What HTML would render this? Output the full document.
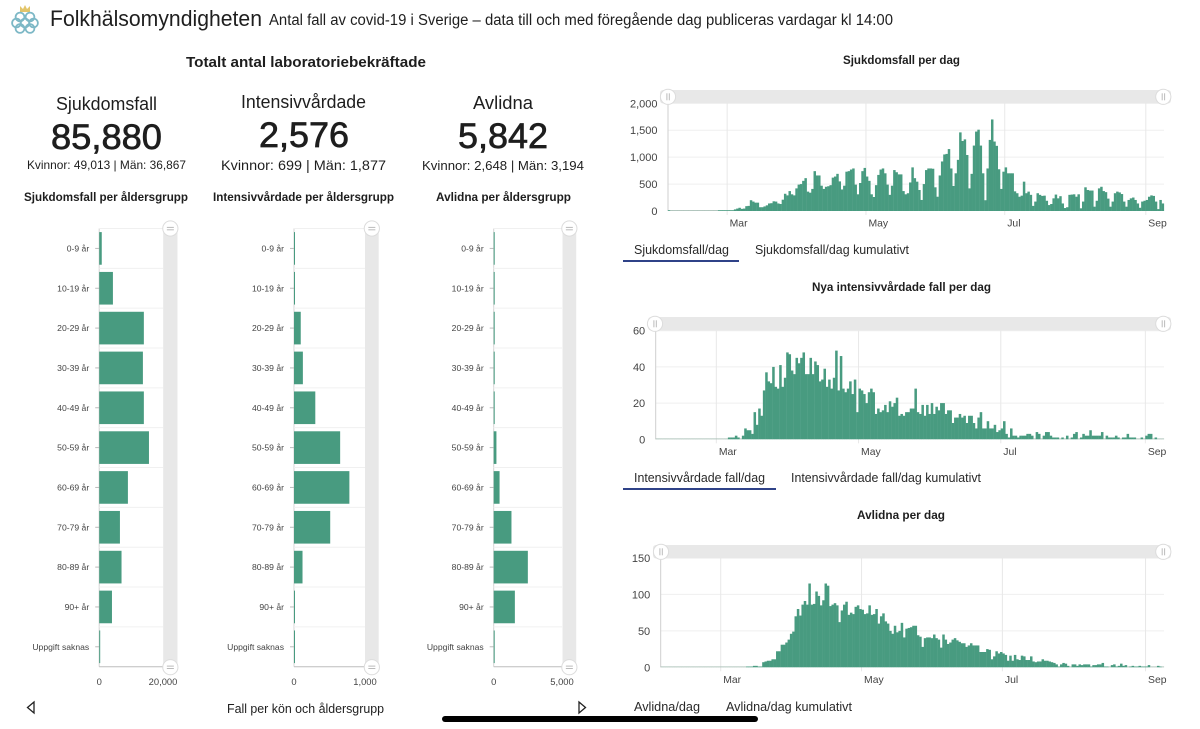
<!DOCTYPE html>
<html lang="sv">
<head>
<meta charset="utf-8">
<title>Folkhälsomyndigheten covid-19</title>
<style>
html,body{margin:0;padding:0;background:#fff;width:1200px;height:729px;overflow:hidden}
svg{display:block;filter:blur(0.35px)}
text{font-family:"Liberation Sans",sans-serif;fill:#1e1e1e}
.tab{font-size:13px;fill:#2a2a2a}
.sub{font-size:12px;font-weight:bold}
</style>
</head>
<body>
<svg id="root" width="1200" height="729" viewBox="0 0 1200 729" xmlns="http://www.w3.org/2000/svg">
  <g fill="none" stroke="#7db8c6" stroke-width="1.8">
    <path d="M20 12 L20 6 L23 9 L25 5 L27 9 L30 6 L30 12 Z" fill="#e3c56a" stroke="none"/>
    <circle cx="20" cy="17" r="4.4"/><circle cx="30" cy="17" r="4.4"/>
    <circle cx="16.5" cy="23" r="4.4"/><circle cx="25" cy="23" r="4.4"/><circle cx="33.5" cy="23" r="4.4"/>
    <circle cx="20" cy="28.5" r="4.4"/><circle cx="30" cy="28.5" r="4.4"/>
  </g>
  <text x="50" y="26" font-size="22" textLength="212" lengthAdjust="spacingAndGlyphs">Folkhälsomyndigheten</text>
  <text x="269" y="25" font-size="15.5" textLength="624" lengthAdjust="spacingAndGlyphs">Antal fall av covid-19 i Sverige – data till och med föregående dag publiceras vardagar kl 14:00</text>
  <text x="186" y="67" font-size="15" font-weight="bold" textLength="240" lengthAdjust="spacingAndGlyphs">Totalt antal laboratoriebekräftade</text>

  <text x="56" y="110" font-size="18" textLength="101" lengthAdjust="spacingAndGlyphs">Sjukdomsfall</text>
  <text x="241" y="108" font-size="18" textLength="125" lengthAdjust="spacingAndGlyphs">Intensivvårdade</text>
  <text x="473" y="109" font-size="18" textLength="60" lengthAdjust="spacingAndGlyphs">Avlidna</text>

  <text x="51" y="149" font-size="35" textLength="111" lengthAdjust="spacingAndGlyphs" stroke="#1e1e1e" stroke-width="0.7">85,880</text>
  <text x="259" y="147" font-size="35" textLength="90" lengthAdjust="spacingAndGlyphs" stroke="#1e1e1e" stroke-width="0.7">2,576</text>
  <text x="458" y="148" font-size="35" textLength="90" lengthAdjust="spacingAndGlyphs" stroke="#1e1e1e" stroke-width="0.7">5,842</text>

  <text x="27" y="169" font-size="12" textLength="159" lengthAdjust="spacingAndGlyphs">Kvinnor: 49,013 | Män: 36,867</text>
  <text x="221" y="170" font-size="14" textLength="165" lengthAdjust="spacingAndGlyphs">Kvinnor: 699 | Män: 1,877</text>
  <text x="422" y="170" font-size="13" textLength="162" lengthAdjust="spacingAndGlyphs">Kvinnor: 2,648 | Män: 3,194</text>

  <text class="sub" x="24" y="201" textLength="164" lengthAdjust="spacingAndGlyphs">Sjukdomsfall per åldersgrupp</text>
  <text class="sub" x="213" y="201" textLength="181" lengthAdjust="spacingAndGlyphs">Intensivvårdade per åldersgrupp</text>
  <text class="sub" x="436" y="201" textLength="135" lengthAdjust="spacingAndGlyphs">Avlidna per åldersgrupp</text>

  <text class="sub" x="843" y="64" textLength="117" lengthAdjust="spacingAndGlyphs">Sjukdomsfall per dag</text>
  <text class="sub" x="812" y="291" textLength="179" lengthAdjust="spacingAndGlyphs">Nya intensivvårdade fall per dag</text>
  <text class="sub" x="857" y="519" textLength="88" lengthAdjust="spacingAndGlyphs">Avlidna per dag</text>

  <text class="tab" x="634" y="254" textLength="95" lengthAdjust="spacingAndGlyphs">Sjukdomsfall/dag</text>
  <text class="tab" x="755" y="254" textLength="154" lengthAdjust="spacingAndGlyphs">Sjukdomsfall/dag kumulativt</text>
  <rect x="623" y="260" width="116" height="2" fill="#2f4288"/>
  <text class="tab" x="634" y="482" textLength="131" lengthAdjust="spacingAndGlyphs">Intensivvårdade fall/dag</text>
  <text class="tab" x="791" y="482" textLength="190" lengthAdjust="spacingAndGlyphs">Intensivvårdade fall/dag kumulativt</text>
  <rect x="623" y="488" width="153" height="2" fill="#2f4288"/>
  <text class="tab" x="634" y="711" textLength="66" lengthAdjust="spacingAndGlyphs">Avlidna/dag</text>
  <text class="tab" x="726" y="711" textLength="126" lengthAdjust="spacingAndGlyphs">Avlidna/dag kumulativt</text>

  <text x="227" y="713" font-size="13" fill="#2a2a2a" textLength="157" lengthAdjust="spacingAndGlyphs">Fall per kön och åldersgrupp</text>
  <path d="M34 702 L27.5 707.5 L34 713 Z" fill="#fff" stroke="#222" stroke-width="1.3"/>
  <path d="M579 702 L585.5 707.5 L579 713 Z" fill="#fff" stroke="#222" stroke-width="1.3"/>
  <g id="charts"></g>
  <rect x="442" y="716" width="316" height="6" rx="3" fill="#000"/>
</svg>
<script>
var ageCategories = ["0-9 år","10-19 år","20-29 år","30-39 år","40-49 år","50-59 år","60-69 år","70-79 år","80-89 år","90+ år","Uppgift saknas"];
var ageCases = [800,4300,14000,13700,14000,15600,9000,6500,7000,4000,150];
var ageIcu = [8,12,95,125,300,650,780,510,120,10,8];
var ageDeaths = [3,5,15,30,70,200,430,1300,2500,1550,15];
var ageCasesTicks = [0,20000];
var ageIcuTicks = [0,1000];
var ageDeathsTicks = [0,5000];

var monthLabels = ["Mar","May","Jul","Sep"];
var monthStartDays = [26,87,148,210];
var dailyCasesTicks = [0,500,1000,1500,2000];
var dailyIcuTicks = [0,20,40,60];
var dailyDeathsTicks = [0,50,100,150];

var dailyCases = [
1,0,0,0,0,0,0,0,0,0,0,0,0,0,0,0,0,0,0,0,0,0,1,2,3,3,
5,10,15,30,45,60,40,45,90,95,200,175,155,155,70,70,85,105,140,145,180,175,140,130,210,320,290,370,310,290,420,
490,500,560,610,360,340,410,740,660,660,470,410,450,460,480,620,640,690,550,400,470,730,740,770,790,490,310,520,740,800,
640,560,310,260,480,670,770,790,700,490,300,470,760,720,680,
680,370,310,330,530,810,610,545,390,205,
500,760,790,790,785,440,265,660,920,1050,
1060,1150,790,465,700,950,1460,1300,1330,1040,
420,690,1215,1475,1510,1215,700,200,790,1320,
1700,1290,1210,775,410,730,810,700,700,700,
365,330,265,285,545,330,360,300,95,175,
330,300,280,285,190,110,130,235,305,235,
275,140,55,70,300,305,310,265,310,50,
175,440,390,380,380,80,190,420,450,370,
350,230,80,175,330,360,345,315,175,80,
205,235,250,205,140,60,175,190,205,265,
290,280,175,35,205,140
];
var dailyIcu = [
0,0,0,0,0,0,0,0,0,0,0,0,0,0,0,0,0,0,0,0,0,0,0,0,0,0,
0,0,0,0,0,1,1,1,2,1,
0,2,6,5,5,3,15,8,17,13,
27,37,32,31,40,29,28,41,29,34,
48,47,38,36,45,42,45,48,36,36,
45,36,43,41,32,33,39,29,33,28,
34,49,27,46,28,26,28,32,25,33,
15,28,27,25,20,26,28,26,14,17,
15,16,19,15,21,18,20,23,13,14,
13,15,
15,17,17,28,15,14,19,13,19,14,
20,14,18,16,20,20,14,16,16,9,
12,12,14,12,13,9,13,13,9,6,
12,15,6,6,10,6,6,8,4,5,
6,10,3,1,6,2,2,1,2,2,
2,3,3,2,0,4,3,0,2,4,
4,2,1,1,1,0,1,0,2,0,
1,3,4,0,1,3,2,2,5,2,
2,2,2,4,0,2,1,1,1,2,
1,0,1,1,3,1,1,1,0,0,
1,0,2,3,3,0,1,0,0,0
];
var dailyDeaths = [
0,0,0,0,0,0,0,0,0,0,0,0,0,0,0,0,0,0,0,0,0,0,0,0,0,0,
0,0,0,0,0,0,0,0,0,0,0,
1,1,1,2,2,1,1,7,8,9,
9,11,11,22,22,31,31,34,38,46,
49,70,80,71,86,91,86,115,86,87,
104,98,85,92,115,112,84,86,88,85,
62,78,86,90,72,75,73,83,85,80,
79,73,74,85,72,73,80,60,70,74,
63,60,50,46,57,48,50,61,41,53,
54,55,
57,57,44,42,28,40,41,41,40,45,
40,38,27,45,38,32,34,38,40,37,
35,33,33,28,30,33,30,30,30,21,
21,21,25,24,11,15,22,19,21,19,
17,9,16,9,17,11,10,16,15,10,
10,15,8,7,8,8,11,9,9,8,
7,6,4,1,4,6,5,2,0,4,
4,2,4,3,4,4,4,1,3,3,
4,4,6,1,1,0,3,4,1,2,
5,2,3,0,1,2,1,1,2,1,
1,1,3,0,0,0,2,1,0
];

var SVGNS = "http://www.w3.org/2000/svg";
var chartsRoot = document.getElementById("charts");
var BAR = "#489b80";
var TOTAL_DAYS = 218;

function mk(parent, tag, attrs, txt) {
  var el = document.createElementNS(SVGNS, tag);
  for (var k in attrs) el.setAttribute(k, attrs[k]);
  if (txt !== undefined) el.textContent = txt;
  parent.appendChild(el);
  return el;
}
function fmt(v) { return String(v).replace(/\B(?=(\d{3})+$)/g, ","); }

function drawHandle(parent, cx, cy, vertical) {
  var g = mk(parent, "g", {});
  
  
  mk(g, "circle", {cx:cx, cy:cy, r:7.6, fill:"#fff", stroke:"#dcdcdc", "stroke-width":1});
  if (vertical) {
    mk(g, "rect", {x:cx-1.6, y:cy-3.5, width:1, height:7, fill:"#bbb"});
    mk(g, "rect", {x:cx+0.8, y:cy-3.5, width:1, height:7, fill:"#bbb"});
  } else {
    mk(g, "rect", {x:cx-3.5, y:cy-1.6, width:7, height:1, fill:"#bbb"});
    mk(g, "rect", {x:cx-3.5, y:cy+0.8, width:7, height:1, fill:"#bbb"});
  }
}

function drawAgeChart(name, values, ticks, cfg) {
  var g = mk(chartsRoot, "g", {});
  
  
  var top = 228.5, bottom = 666.7, band = (bottom - top) / ageCategories.length;
  function xScale(v) { return cfg.x0 + v / ticks[ticks.length - 1] * (cfg.x1 - cfg.x0); }
  function yBand(i) { return top + i * band; }
  var yaxis = mk(g, "line", {x1:cfg.x0, x2:cfg.x0, y1:top, y2:bottom, stroke:"#d4d4d4", "stroke-width":1});
  
  
  ageCategories.forEach(function (c, i) {
    var line = mk(g, "line", {x1:cfg.x0, x2:cfg.x1, y1:yBand(i), y2:yBand(i), stroke:"#f0f0f0", "stroke-width":1});
    
    
    var tick = mk(g, "line", {x1:cfg.x0 - 4, x2:cfg.x0, y1:yBand(i) + band / 2, y2:yBand(i) + band / 2, stroke:"#bbb", "stroke-width":1});
    
    
    var label = mk(g, "text", {x:cfg.x0 - 10, y:yBand(i) + band / 2 + 3, "text-anchor":"end", "font-size":8.6, style:"fill:#444"}, c);
    
    
    var w = Math.max(xScale(values[i]) - cfg.x0, 1);
    var bar = mk(g, "rect", {x:cfg.x0, y:yBand(i) + 3.6, width:w, height:band - 7.2, fill:BAR});
    
    
  });
  var axis = mk(g, "line", {x1:cfg.x0, x2:cfg.x1, y1:bottom, y2:bottom, stroke:"#bdbdbd", "stroke-width":1});
  
  
  ticks.forEach(function (t) {
    var lab = mk(g, "text", {x:xScale(t), y:685, "text-anchor":"middle", "font-size":9.4, style:"fill:#444"}, fmt(t));
    
    
  });
  var track = mk(g, "rect", {x:cfg.sx, y:top, width:cfg.sw, height:bottom - top, fill:"#e8e8e8"});
  
  
  drawHandle(g, cfg.sx + cfg.sw / 2, top, false);
  drawHandle(g, cfg.sx + cfg.sw / 2, bottom + 0.5, false);
}

function drawDailyChart(name, values, ticks, cfg) {
  var g = mk(chartsRoot, "g", {});
  
  
  var bw = (cfg.x1 - cfg.x0) / TOTAL_DAYS;
  var maxTick = ticks[ticks.length - 1];
  function xScale(d) { return cfg.x0 + d * bw; }
  function yScale(v) { return cfg.y0 - v / maxTick * (cfg.y0 - cfg.yTop); }
  ticks.forEach(function (t) {
    if (t > 0) {
      var grid = mk(g, "line", {x1:cfg.x0, x2:cfg.x1, y1:yScale(t), y2:yScale(t), stroke:"#efefef", "stroke-width":1});
      
      
    }
    var lab = mk(g, "text", {x:cfg.x0 - 10.5, y:yScale(t) + 4, "text-anchor":"end", "font-size":11, style:"fill:#444"}, fmt(t));
    
    
  });
  monthStartDays.forEach(function (d, i) {
    var x = xScale(d) + cfg.tickShift;
    var vg = mk(g, "line", {x1:x, x2:x, y1:cfg.yTop, y2:cfg.y0 + 4, stroke:"#e8e8e8", "stroke-width":1});
    
    
    var lab = mk(g, "text", {x:x + 2.5, y:cfg.y0 + 15.5, "font-size":10.4, style:"fill:#444"}, monthLabels[i]);
    
    
  });
  var yaxis = mk(g, "line", {x1:cfg.x0, x2:cfg.x0, y1:cfg.yTop, y2:cfg.y0, stroke:"#cfcfcf", "stroke-width":1});
  
  
  values.forEach(function (v, i) {
    var y = yScale(v);
    var h = Math.max(cfg.y0 - y, 0.8);
    var bar = mk(g, "rect", {x:xScale(i) - 0.1, y:cfg.y0 - h, width:bw + 0.2, height:h, fill: v === 0 ? "#9fb8ae" : BAR});
    
    
  });
  var track = mk(g, "rect", {x:cfg.sx, y:cfg.sy, width:1171 - cfg.sx, height:13.5, rx:3, fill:"#e8e8e8"});
  
  
  drawHandle(g, cfg.hx, cfg.sy + 6.8, true);
  drawHandle(g, 1163.3, cfg.sy + 6.8, true);
}

drawAgeChart("cases-by-age-chart", ageCases, ageCasesTicks, {x0:99.2, x1:163, sx:163.2, sw:14.3});
drawAgeChart("icu-by-age-chart", ageIcu, ageIcuTicks, {x0:294, x1:365, sx:365, sw:13.7});
drawAgeChart("deaths-by-age-chart", ageDeaths, ageDeathsTicks, {x0:493.7, x1:562, sx:562.5, sw:13.7});

drawDailyChart("daily-cases-chart", dailyCases, dailyCasesTicks, {x0:668, x1:1164, y0:211, yTop:103.3, sx:660, sy:90, hx:668, tickShift:0});
drawDailyChart("daily-icu-chart", dailyIcu, dailyIcuTicks, {x0:655.7, x1:1164, y0:439.3, yTop:330.7, sx:648, sy:317, hx:655, tickShift:0});
drawDailyChart("daily-deaths-chart", dailyDeaths, dailyDeathsTicks, {x0:660.7, x1:1164, y0:667.3, yTop:558, sx:653, sy:545, hx:661, tickShift:0});
</script>
</body>
</html>
